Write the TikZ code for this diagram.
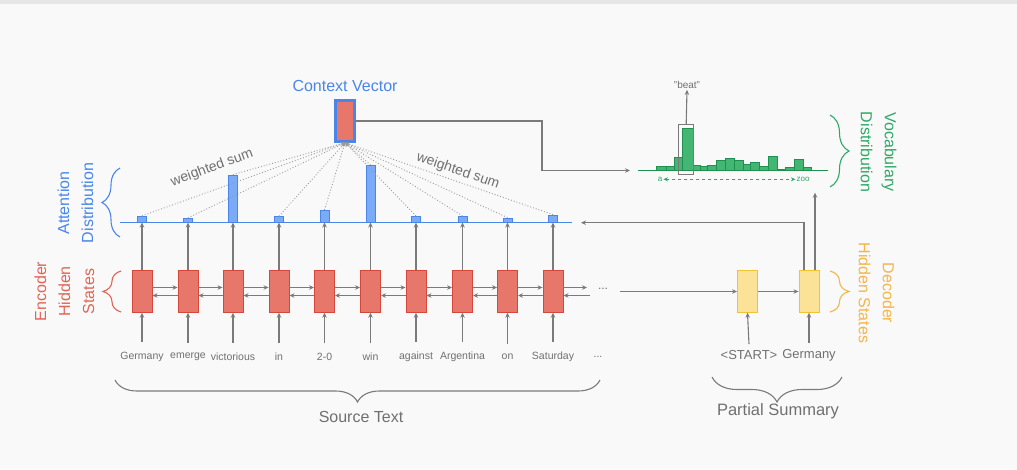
\documentclass[tikz,border=0pt]{standalone}
\usepackage{fontspec}
\setmainfont{Liberation Sans}
\usetikzlibrary{arrows.meta,decorations.pathreplacing,calc}
\definecolor{bg}{HTML}{F9F9F9}
\definecolor{topband}{HTML}{E6E6E6}
\definecolor{arrgray}{HTML}{7A7A7A}
\definecolor{txtgray}{HTML}{707070}
\definecolor{dotgray}{HTML}{9A9A9A}
\definecolor{encfill}{HTML}{E8776B}
\definecolor{encdraw}{HTML}{D4473A}
\definecolor{encred}{HTML}{E06556}
\definecolor{attblue}{HTML}{4A86E8}
\definecolor{barfill}{HTML}{7BAAF7}
\definecolor{decfill}{HTML}{FBE296}
\definecolor{decdraw}{HTML}{F1C232}
\definecolor{decyel}{HTML}{F4B54A}
\definecolor{vocfill}{HTML}{43B673}
\definecolor{vocdraw}{HTML}{1E9050}
\definecolor{vocgreen}{HTML}{2FA866}
\begin{document}
\begin{tikzpicture}[x=1pt,y=-1pt,
  arr/.style={draw=arrgray,line width=1.1pt,-{Stealth[length=5pt,width=4.5pt]}},
  plain/.style={draw=arrgray,line width=1.1pt},
  enc/.style={draw=encdraw,fill=encfill,line width=0.9pt,minimum width=20pt,minimum height=41.5pt,inner sep=0pt},
  dec/.style={draw=decdraw,fill=decfill,line width=0.9pt,minimum width=20pt,minimum height=41.5pt,inner sep=0pt},
  abar/.style={draw=attblue,fill=barfill,line width=0.9pt,minimum width=9pt,inner sep=0pt,anchor=south},
  vbar/.style={draw=vocdraw,fill=vocfill,line width=0.7pt},
  word/.style={text=txtgray,font=\fontsize{10.5}{12}\selectfont,inner sep=1pt},
  dword/.style={text=txtgray,font=\fontsize{13}{15}\selectfont,inner sep=1pt},
  biglabel/.style={font=\fontsize{16}{24}\selectfont,align=center,inner sep=0pt},
  dotline/.style={draw=dotgray,line width=0.9pt,dotted,-{Stealth[length=4pt,width=3.5pt]}},
  brc/.style={decorate,decoration={brace,amplitude=#1},line width=1.1pt},
  wsum/.style={text=txtgray,font=\fontsize{14}{16}\selectfont}
]
\useasboundingbox (0,0) rectangle (1017,469);
\fill[bg] (0,0) rectangle (1017,469);
\fill[topband] (0,0) rectangle (1017,4);

% encoder cells and words
\foreach \i/\x/\w in {1/142/Germany,2/188/emerge,3/233/victorious,4/279/in,5/324.5/2-0,6/370.5/win,7/416/against,8/462.5/Argentina,9/507.5/on,10/553/Saturday}{
  \node[enc] (e\i) at (\x,291.5) {};
  \node[word] (w\i) at (\x,357) {\w};
  \draw[arr] ($(w\i.north)+(0,-9)$) -- (e\i.south);
}
\node[word] (wdots) at (598,357) {...};

% attention bars
\foreach \i/\h in {1/5.7,2/3.7,3/47,4/5.4,5/11.7,6/56.7,7/5.7,8/5.7,9/4,10/7}{
  \node[abar,minimum height=\h pt] (a\i) at ($(e\i.north)+(0,-47.8)$) {};
  \draw[arr] (e\i.north) -- (a\i.south);
}
\coordinate (attL) at (120,222.7);
\coordinate (attR) at (572,222.7);
\draw[attblue,line width=1.1pt] (attL) -- (attR);
\foreach \i/\h in {1/5.7,2/3.7,3/47,4/5.4,5/11.7,6/56.7,7/5.7,8/5.7,9/4,10/7}{
  \node[abar,minimum height=\h pt] at ($(e\i.north)+(0,-47.8)$) {};
}

% encoder recurrent arrows
\foreach \i/\j in {1/2,2/3,3/4,4/5,5/6,6/7,7/8,8/9,9/10}{
  \draw[arr] ([yshift=4pt]e\i.east) -- ([yshift=4pt]e\j.west);
  \draw[arr] ([yshift=-4pt]e\j.west) -- ([yshift=-4pt]e\i.east);
}
\coordinate (fend) at (587,287.5);
\coordinate (bstart) at (590,295.5);
\draw[arr] ([yshift=4pt]e10.east) -- (fend);
\draw[arr] (bstart) -- ([yshift=-4pt]e10.east);
\node[text=txtgray,font=\fontsize{12}{14}\selectfont] (dots) at (603,289) {...};

% context vector
\node[draw=attblue,fill=encfill,line width=2.4pt,minimum width=19pt,minimum height=41pt,inner sep=0pt] (ctx) at (345,121) {};
\node[biglabel,text=attblue] (ctxl) at (345,86) {Context Vector};
\foreach \i in {1,...,10}{
  \draw[dotline] (a\i.north) -- (ctx.south);
}
\node[wsum,rotate=20] (ws1) at (212,168) {weighted sum};
\node[wsum,rotate=-19] (ws2) at (458,171) {weighted sum};

% decoder
\node[dec] (d1) at (747.5,291.5) {};
\node[dec] (d2) at (809,291.5) {};
\node[dword] (s1) at (749,355) {<START>};
\node[dword] (s2) at (809,355) {Germany};
\draw[arr] ($(s1.north)+(0,-5)$) -- (d1.south);
\draw[arr] ($(s2.north)+(0,-5)$) -- (d2.south);
\coordinate (dstart) at (620,291.5);
\draw[arr] (dstart) -- (d1.west);
\draw[arr] (d1.east) -- (d2.west);
\coordinate (attin) at (581,222.7);
\draw[arr] ([xshift=-5pt]d2.north) |- (attin);
\coordinate (vocin) at (815,192.7);
\draw[arr] ([xshift=6pt]d2.north) -- (vocin);

% vocabulary distribution
\coordinate (vin) at (630,170.5);
\draw[arr] (ctx.east) -- (542,121) |- (vin);
\foreach \a/\b/\t in {656/666/166.7,666/674/166.7,674/682/157.3,682/693/128.3,693/700/165,700/707/166.7,707/716/165,716/725/160,725/734/158.3,734/743/160,743/750/164.3,750/759/162.7,759/768/166.7,768/777/156.7,777/785/169,785/794/167.7,794/803/159.3,803/811/167.7}{
  \draw[vbar] (\a,170.7) rectangle (\b,\t);
}
\draw[vocdraw,line width=1.1pt] (638,170.7) -- (828,170.7);
\node[draw=arrgray,line width=1pt,minimum width=15.5pt,minimum height=50pt,inner sep=0pt] (hl) at (686.2,149.3) {};
\node[text=txtgray,font=\fontsize{10}{12}\selectfont,inner sep=1pt] (beat) at (687,85) {"beat"};
\draw[arr] (hl.north) -- (beat.south);
\node[text=vocgreen,font=\fontsize{8}{9}\selectfont,inner sep=1pt] (za) at (660,179.3) {a};
\node[text=vocgreen,font=\fontsize{8}{9}\selectfont,inner sep=1pt] (zz) at (803,179.3) {zoo};
\draw[vocgreen,line width=1pt,dashed,{Stealth[length=4.5pt,width=4pt]}-{Stealth[length=4.5pt,width=4pt]}] (za.east) -- (zz.west);

% braces and labels
\draw[brc=18pt,attblue] (120,237) -- (120,168);
\node[biglabel,text=attblue,rotate=90] (attlab) at (75.5,203) {Attention\\Distribution};
\draw[brc=18pt,encred] (121,312) -- (121,271);
\node[biglabel,text=encred,rotate=90] (enclab) at (64.5,291.5) {Encoder\\Hidden\\States};
\draw[brc=19pt,vocgreen] (830,115) -- (830,187);
\node[biglabel,text=vocgreen,rotate=-90] (voclab) at (878.5,152) {Vocabulary\\Distribution};
\draw[brc=19pt,decyel] (830,271) -- (830,312);
\node[biglabel,text=decyel,rotate=-90] (declab) at (876.5,293) {Decoder\\Hidden States};
\draw[brc=22pt,arrgray] (600,380) -- (115,380);
\node[biglabel,text=txtgray] (srclab) at (361,417) {Source Text};
\draw[brc=25pt,arrgray] (842,377) -- (712,377);
\node[biglabel,text=txtgray,font=\fontsize{16.5}{20}\selectfont] (pslab) at (778,411) {Partial Summary};
\end{tikzpicture}
\end{document}
